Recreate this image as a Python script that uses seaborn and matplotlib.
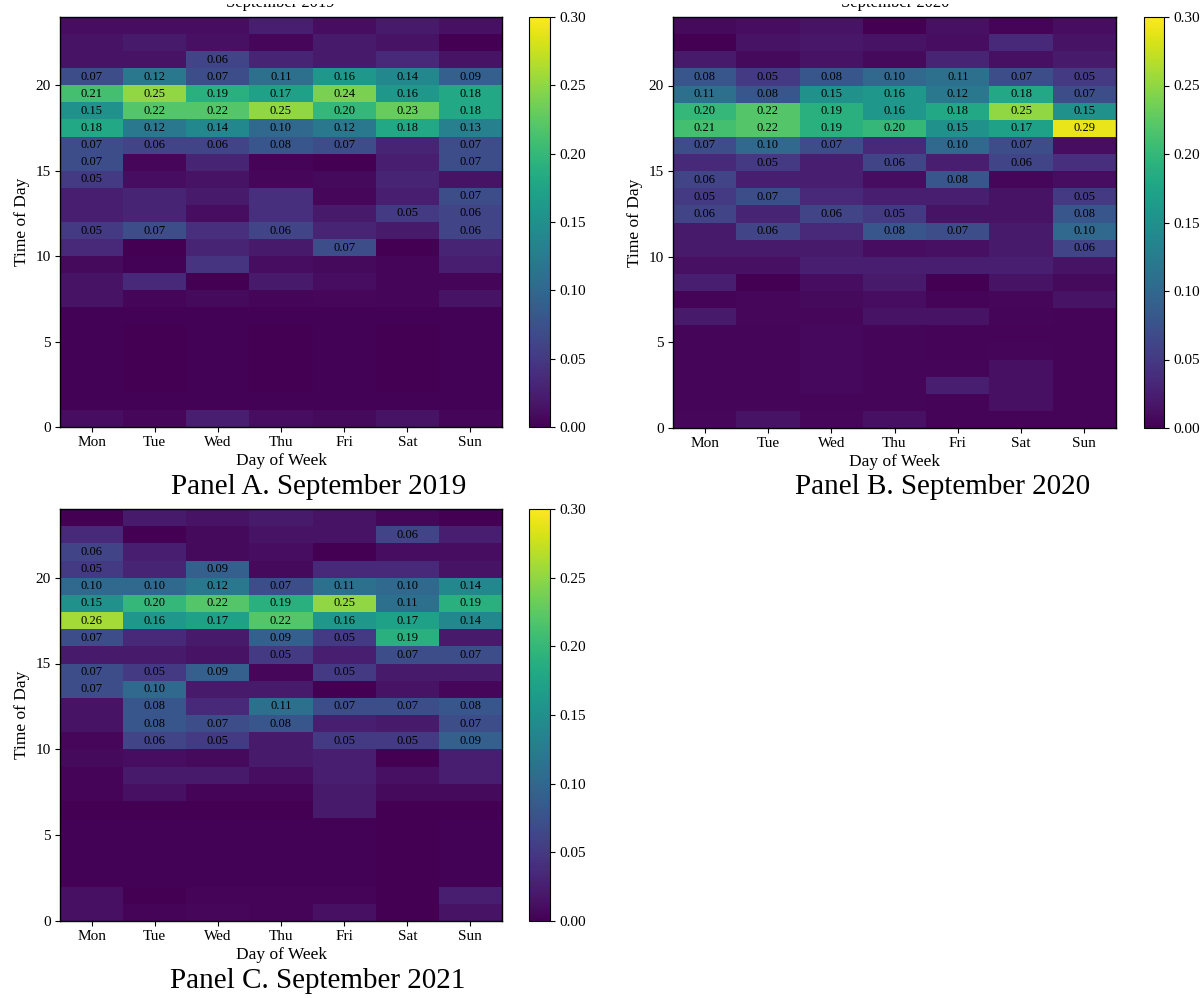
import numpy as np
import pandas as pd
import seaborn as sns
import matplotlib.pyplot as plt
from matplotlib.transforms import Bbox

plt.rcParams['font.family'] = ['Liberation Serif', 'DejaVu Serif']

days = ["Mon", "Tue", "Wed", "Thu", "Fri", "Sat", "Sun"]
hour_ticks = [0, 5, 10, 15, 20]

# Share of trips per hour (rows: hour 0..23) and weekday (columns: Mon..Sun)
sep_2019 = [
    [0.010, 0.005, 0.025, 0.010, 0.008, 0.015, 0.004],
    [0.002, 0.002, 0.002, 0.002, 0.002, 0.002, 0.002],
    [0.002, 0.001, 0.002, 0.001, 0.002, 0.001, 0.002],
    [0.002, 0.001, 0.002, 0.001, 0.002, 0.001, 0.002],
    [0.002, 0.001, 0.002, 0.001, 0.002, 0.001, 0.002],
    [0.002, 0.001, 0.002, 0.001, 0.002, 0.001, 0.002],
    [0.002, 0.002, 0.002, 0.002, 0.002, 0.002, 0.002],
    [0.015, 0.004, 0.008, 0.004, 0.005, 0.004, 0.015],
    [0.015, 0.035, 0.001, 0.020, 0.010, 0.004, 0.004],
    [0.008, 0.002, 0.045, 0.010, 0.008, 0.004, 0.025],
    [0.035, 0.000, 0.030, 0.020, 0.07, 0.001, 0.030],
    [0.05, 0.07, 0.040, 0.06, 0.030, 0.020, 0.06],
    [0.025, 0.030, 0.010, 0.040, 0.020, 0.05, 0.06],
    [0.025, 0.030, 0.020, 0.040, 0.005, 0.025, 0.07],
    [0.05, 0.010, 0.015, 0.005, 0.008, 0.030, 0.015],
    [0.07, 0.005, 0.030, 0.003, 0.000, 0.025, 0.07],
    [0.07, 0.06, 0.06, 0.08, 0.07, 0.030, 0.07],
    [0.18, 0.12, 0.14, 0.10, 0.12, 0.18, 0.13],
    [0.15, 0.22, 0.22, 0.25, 0.20, 0.23, 0.18],
    [0.21, 0.25, 0.19, 0.17, 0.24, 0.16, 0.18],
    [0.07, 0.12, 0.07, 0.11, 0.16, 0.14, 0.09],
    [0.015, 0.015, 0.06, 0.030, 0.020, 0.035, 0.015],
    [0.015, 0.020, 0.012, 0.005, 0.020, 0.015, 0.000],
    [0.010, 0.010, 0.010, 0.025, 0.010, 0.020, 0.012],
]

sep_2020 = [
    [0.005, 0.015, 0.005, 0.012, 0.003, 0.003, 0.003],
    [0.004, 0.004, 0.004, 0.004, 0.003, 0.012, 0.003],
    [0.004, 0.004, 0.006, 0.004, 0.025, 0.012, 0.003],
    [0.004, 0.004, 0.006, 0.004, 0.004, 0.012, 0.003],
    [0.004, 0.004, 0.006, 0.004, 0.003, 0.004, 0.003],
    [0.004, 0.004, 0.006, 0.004, 0.003, 0.003, 0.003],
    [0.020, 0.005, 0.005, 0.015, 0.015, 0.004, 0.003],
    [0.003, 0.005, 0.008, 0.010, 0.003, 0.005, 0.015],
    [0.025, 0.000, 0.010, 0.020, 0.000, 0.015, 0.008],
    [0.012, 0.012, 0.025, 0.025, 0.025, 0.025, 0.015],
    [0.020, 0.020, 0.020, 0.010, 0.012, 0.020, 0.06],
    [0.020, 0.06, 0.035, 0.08, 0.07, 0.020, 0.10],
    [0.06, 0.030, 0.06, 0.05, 0.015, 0.015, 0.08],
    [0.05, 0.07, 0.035, 0.025, 0.025, 0.015, 0.05],
    [0.06, 0.025, 0.025, 0.010, 0.08, 0.005, 0.010],
    [0.035, 0.05, 0.025, 0.06, 0.025, 0.06, 0.040],
    [0.07, 0.10, 0.07, 0.035, 0.10, 0.07, 0.010],
    [0.21, 0.22, 0.19, 0.20, 0.15, 0.17, 0.29],
    [0.20, 0.22, 0.19, 0.16, 0.18, 0.25, 0.15],
    [0.11, 0.08, 0.15, 0.16, 0.12, 0.18, 0.07],
    [0.08, 0.05, 0.08, 0.10, 0.11, 0.07, 0.05],
    [0.020, 0.008, 0.015, 0.008, 0.030, 0.012, 0.020],
    [0.000, 0.015, 0.018, 0.015, 0.010, 0.035, 0.015],
    [0.008, 0.010, 0.015, 0.000, 0.012, 0.003, 0.010],
]

sep_2021 = [
    [0.012, 0.003, 0.005, 0.003, 0.012, 0.001, 0.015],
    [0.012, 0.001, 0.003, 0.003, 0.003, 0.001, 0.025],
    [0.002, 0.002, 0.002, 0.002, 0.002, 0.001, 0.002],
    [0.002, 0.002, 0.002, 0.002, 0.002, 0.001, 0.002],
    [0.002, 0.002, 0.002, 0.002, 0.002, 0.001, 0.002],
    [0.002, 0.002, 0.002, 0.002, 0.002, 0.001, 0.002],
    [0.001, 0.001, 0.001, 0.001, 0.020, 0.001, 0.001],
    [0.003, 0.012, 0.003, 0.003, 0.020, 0.008, 0.008],
    [0.003, 0.020, 0.020, 0.010, 0.025, 0.012, 0.025],
    [0.008, 0.010, 0.008, 0.020, 0.025, 0.000, 0.025],
    [0.005, 0.06, 0.05, 0.020, 0.05, 0.05, 0.09],
    [0.015, 0.08, 0.07, 0.08, 0.025, 0.020, 0.07],
    [0.015, 0.08, 0.035, 0.11, 0.07, 0.07, 0.08],
    [0.07, 0.10, 0.020, 0.020, 0.000, 0.015, 0.005],
    [0.07, 0.05, 0.09, 0.005, 0.05, 0.020, 0.020],
    [0.020, 0.020, 0.015, 0.05, 0.025, 0.07, 0.07],
    [0.07, 0.035, 0.020, 0.09, 0.05, 0.19, 0.020],
    [0.26, 0.16, 0.17, 0.22, 0.16, 0.17, 0.14],
    [0.15, 0.20, 0.22, 0.19, 0.25, 0.11, 0.19],
    [0.10, 0.10, 0.12, 0.07, 0.11, 0.10, 0.14],
    [0.05, 0.030, 0.09, 0.008, 0.035, 0.035, 0.015],
    [0.06, 0.025, 0.008, 0.010, 0.000, 0.010, 0.010],
    [0.035, 0.000, 0.008, 0.015, 0.015, 0.06, 0.025],
    [0.001, 0.020, 0.015, 0.020, 0.015, 0.005, 0.000],
]

panels = [
    (sep_2019, "September 2019", "Panel A. September 2019"),
    (sep_2020, "September 2020", "Panel B. September 2020"),
    (sep_2021, "September 2021", "Panel C. September 2021"),
]

W, H = 1204, 998
fig = plt.figure(figsize=(W / 100, H / 100), dpi=100)


def box(x0, y0, x1, y1):
    return [x0 / W, 1 - y1 / H, (x1 - x0) / W, (y1 - y0) / H]


layout = [
    # heatmap box, colorbar box, caption centre, title centre x / baseline y
    ((60, 17, 502, 427), (529, 17, 550, 427), (319, 487), (280, 7)),
    ((673, 17, 1116, 428), (1144, 17, 1164, 428), (943, 487), (895, 7)),
    ((60, 509, 502, 921), (529, 509, 550, 921), (318, 981), None),
]

# the panel titles sit in the trimmed top margin: only their lower edge shows
title_clip = Bbox.from_extents(0, 0, W, H - 4)

for (values, title, caption), (hbox, cbox, cap, tpos) in zip(panels, layout):
    ax = fig.add_axes(box(*hbox))
    cax = fig.add_axes(box(*cbox))
    df = pd.DataFrame(values, columns=days)
    labels = df.map(lambda v: f"{v:.2f}" if v >= 0.05 else "")
    sns.heatmap(df, ax=ax, cbar_ax=cax, cmap="viridis", vmin=0, vmax=0.3,
                annot=labels, fmt="", annot_kws={"size": 9, "color": "black"},
                xticklabels=days, yticklabels=False)
    ax.invert_yaxis()
    ax.set_yticks(hour_ticks)
    ax.set_yticklabels([str(t) for t in hour_ticks], rotation=0)
    ax.tick_params(axis="both", length=3.5, width=0.8, color="black",
                   labelsize=11, pad=3)
    ax.tick_params(axis="x", rotation=0)
    for sp in ax.spines.values():
        sp.set_visible(True)
        sp.set_color("black")
        sp.set_linewidth(1.0)
    ax.set_xlabel("Day of Week", fontsize=12.5, labelpad=3)
    ax.set_ylabel("Time of Day", fontsize=12.5, labelpad=4)

    cb = ax.collections[0].colorbar
    cticks = [0.0, 0.05, 0.10, 0.15, 0.20, 0.25, 0.30]
    cb.set_ticks(cticks)
    cb.set_ticklabels([f"{t:.2f}" for t in cticks])
    cb.ax.tick_params(labelsize=11, length=3.5, width=0.8, color="black")
    cb.outline.set_linewidth(0.8)
    cb.outline.set_edgecolor("black")

    if tpos is not None:
        t = fig.text(tpos[0] / W, 1 - tpos[1] / H, title, ha="center",
                     va="baseline", fontsize=12)
        t.set_clip_box(title_clip)
        t.set_clip_on(True)
    fig.text(cap[0] / W, 1 - cap[1] / H, caption, ha="center", va="center",
             fontsize=21)

fig.savefig("out.png", dpi=100)
